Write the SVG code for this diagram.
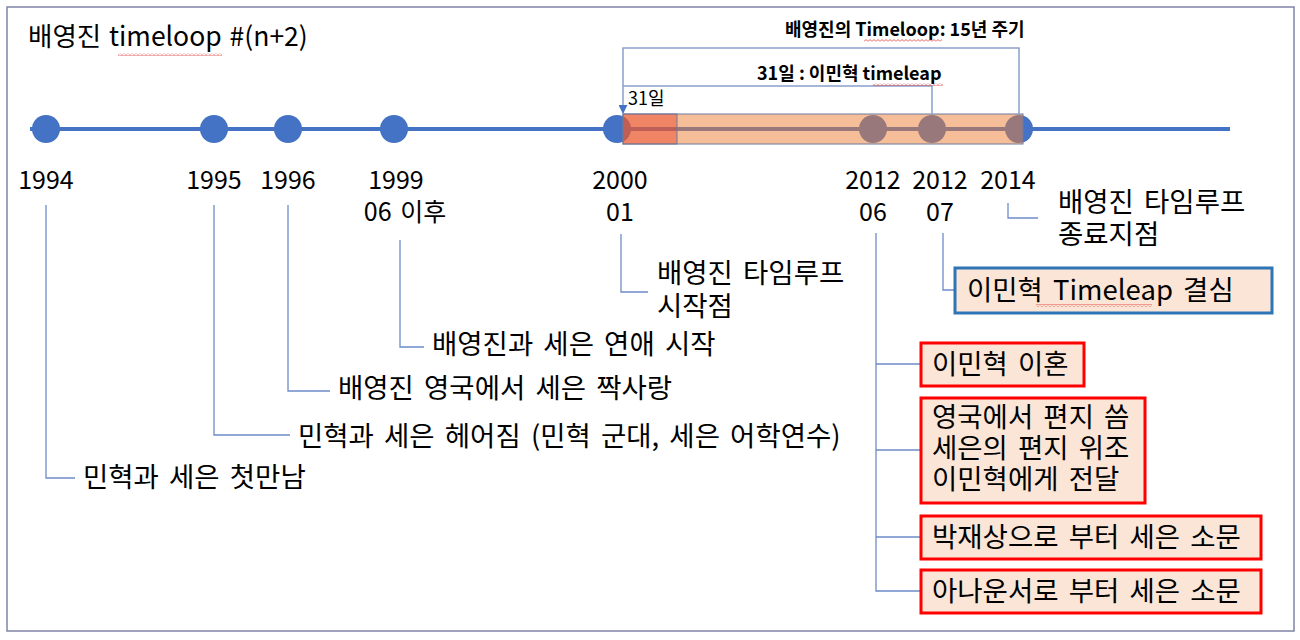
<svg xmlns="http://www.w3.org/2000/svg" width="1300" height="640" viewBox="0 0 1300 640">
<defs>
<style>
.t{font-family:"Noto Sans CJK KR","Malgun Gothic","Noto Sans",sans-serif;font-size:27.5px;fill:#000;word-spacing:4px}
.yr{font-family:"Noto Sans CJK KR","Noto Sans",sans-serif;font-size:25px;fill:#000;text-anchor:middle}
.b{font-family:"Noto Sans CJK KR","Noto Sans",sans-serif;font-size:18px;font-weight:bold;fill:#000}
.s{font-family:"Noto Sans CJK KR","Noto Sans",sans-serif;font-size:18px;fill:#000}
.ln{fill:none;stroke:#6E8BC8;stroke-width:1.3}
.br{fill:none;stroke:#8C9FCB;stroke-width:1.5}
.dot{fill:#4472C4}
.rbox{fill:#FBE5D6;stroke:#FF0000;stroke-width:3}
.bbox{fill:#FBE5D6;stroke:#2E75B6;stroke-width:3}
</style>
<pattern id="wave" x="0" y="0" width="4" height="3" patternUnits="userSpaceOnUse">
<polyline points="0,2.5 2,0.5 4,2.5" fill="none" stroke="#E03030" stroke-width="0.8"/>
</pattern>
<marker id="arr" viewBox="0 0 10 10" refX="9" refY="5" markerWidth="9" markerHeight="9" markerUnits="userSpaceOnUse" orient="auto">
<path d="M0,0 L10,5 L0,10 z" fill="#4472C4"/>
</marker>
</defs>
<rect x="7" y="7" width="1287" height="624" fill="#fff" stroke="#7F84A8" stroke-width="1.5"/>

<g id="title">
<text class="t" x="28" y="46" style="font-size:26.5px;word-spacing:2px">배영진 timeloop #(n+2)</text>
<rect x="118" y="53" width="104" height="3" fill="url(#wave)"/>
</g>

<g id="timeline">
<line x1="30" y1="129" x2="1230" y2="129" stroke="#4472C4" stroke-width="4"/>
<circle class="dot" cx="46" cy="129" r="14"/>
<circle class="dot" cx="214" cy="129" r="14"/>
<circle class="dot" cx="288" cy="129" r="14"/>
<circle class="dot" cx="394" cy="129" r="14"/>
<circle class="dot" cx="617" cy="129" r="14"/>
<circle class="dot" cx="873" cy="129" r="14"/>
<circle class="dot" cx="932" cy="129" r="14"/>
<circle class="dot" cx="1019" cy="129" r="14"/>
</g>

<g id="loop-span">
<rect x="623" y="114" width="400" height="30" fill="#ED7D31" fill-opacity="0.5" stroke="#6F7A9E" stroke-width="1"/>
<rect x="623" y="114" width="54" height="30" fill="#E8402A" fill-opacity="0.45" stroke="#6F7A9E" stroke-width="1"/>
</g>

<g id="connectors">
<path class="br" d="M1019,115 V48 H623 V113" marker-end="url(#arr)"/>
<path class="br" d="M932,115 V86 H623"/>
<path class="ln" d="M46,205 V478 H75"/>
<path class="ln" d="M214,205 V435 H290"/>
<path class="ln" d="M288,205 V391 H330"/>
<path class="ln" d="M400,240 V347 H424"/>
<path class="ln" d="M621,234 V292 H648"/>
<path class="ln" d="M876,233 V591 H921 M876,364 H921 M876,450 H921 M876,537 H921"/>
<path class="ln" d="M943,233 V290 H955"/>
<path class="ln" d="M1008,203 V218 H1038"/>
</g>

<g id="loop-label">
<text class="b" x="785" y="36">배영진의 Timeloop: 15년 주기</text>
<rect x="864" y="39" width="78" height="3" fill="url(#wave)"/>
</g>
<g id="leap-label">
<text class="b" x="757" y="80">31일 : 이민혁 timeleap</text>
<rect x="873" y="83" width="70" height="3" fill="url(#wave)"/>
</g>
<g id="days-label">
<text class="s" x="628" y="105">31일</text>
</g>

<g id="y1994">
<text class="yr" x="46" y="189">1994</text>
<text class="t" x="83" y="487">민혁과 세은 첫만남</text>
</g>
<g id="y1995">
<text class="yr" x="214" y="189">1995</text>
<text class="t" x="298" y="446">민혁과 세은 헤어짐 (민혁 군대, 세은 어학연수)</text>
</g>
<g id="y1996">
<text class="yr" x="288" y="189">1996</text>
<text class="t" x="338" y="398">배영진 영국에서 세은 짝사랑</text>
</g>
<g id="y1999">
<text class="yr" x="396" y="189">1999</text>
<text class="yr" x="405" y="221" style="word-spacing:3px">06 이후</text>
<text class="t" x="432" y="354">배영진과 세은 연애 시작</text>
</g>
<g id="y2000">
<text class="yr" x="620" y="189">2000</text>
<text class="yr" x="620" y="221">01</text>
<text class="t" x="657" y="283">배영진 타임루프</text>
<text class="t" x="657" y="316">시작점</text>
</g>
<g id="y2012-06">
<text class="yr" x="873" y="189">2012</text>
<text class="yr" x="873" y="221">06</text>
</g>
<g id="y2012-07">
<text class="yr" x="940" y="189">2012</text>
<text class="yr" x="940" y="221">07</text>
</g>
<g id="y2014">
<text class="yr" x="1008" y="189">2014</text>
<text class="t" x="1058" y="212">배영진 타임루프</text>
<text class="t" x="1058" y="244">종료지점</text>
</g>

<g id="box-timeleap">
<rect class="bbox" x="955" y="268" width="317" height="45"/>
<text class="t" x="967" y="300">이민혁 Timeleap 결심</text>
<rect x="1036" y="304" width="116" height="3" fill="url(#wave)"/>
</g>
<g id="box-divorce">
<rect class="rbox" x="921" y="343" width="163" height="43"/>
<text class="t" x="932" y="374">이민혁 이혼</text>
</g>
<g id="box-letter">
<rect class="rbox" x="921" y="398" width="224" height="105"/>
<text class="t" x="932" y="427">영국에서 편지 씀</text>
<text class="t" x="932" y="458">세은의 편지 위조</text>
<text class="t" x="932" y="489">이민혁에게 전달</text>
</g>
<g id="box-rumor1">
<rect class="rbox" x="921" y="516" width="340" height="43"/>
<text class="t" x="932" y="547">박재상으로 부터 세은 소문</text>
</g>
<g id="box-rumor2">
<rect class="rbox" x="921" y="570" width="340" height="43"/>
<text class="t" x="932" y="601">아나운서로 부터 세은 소문</text>
</g>
</svg>
